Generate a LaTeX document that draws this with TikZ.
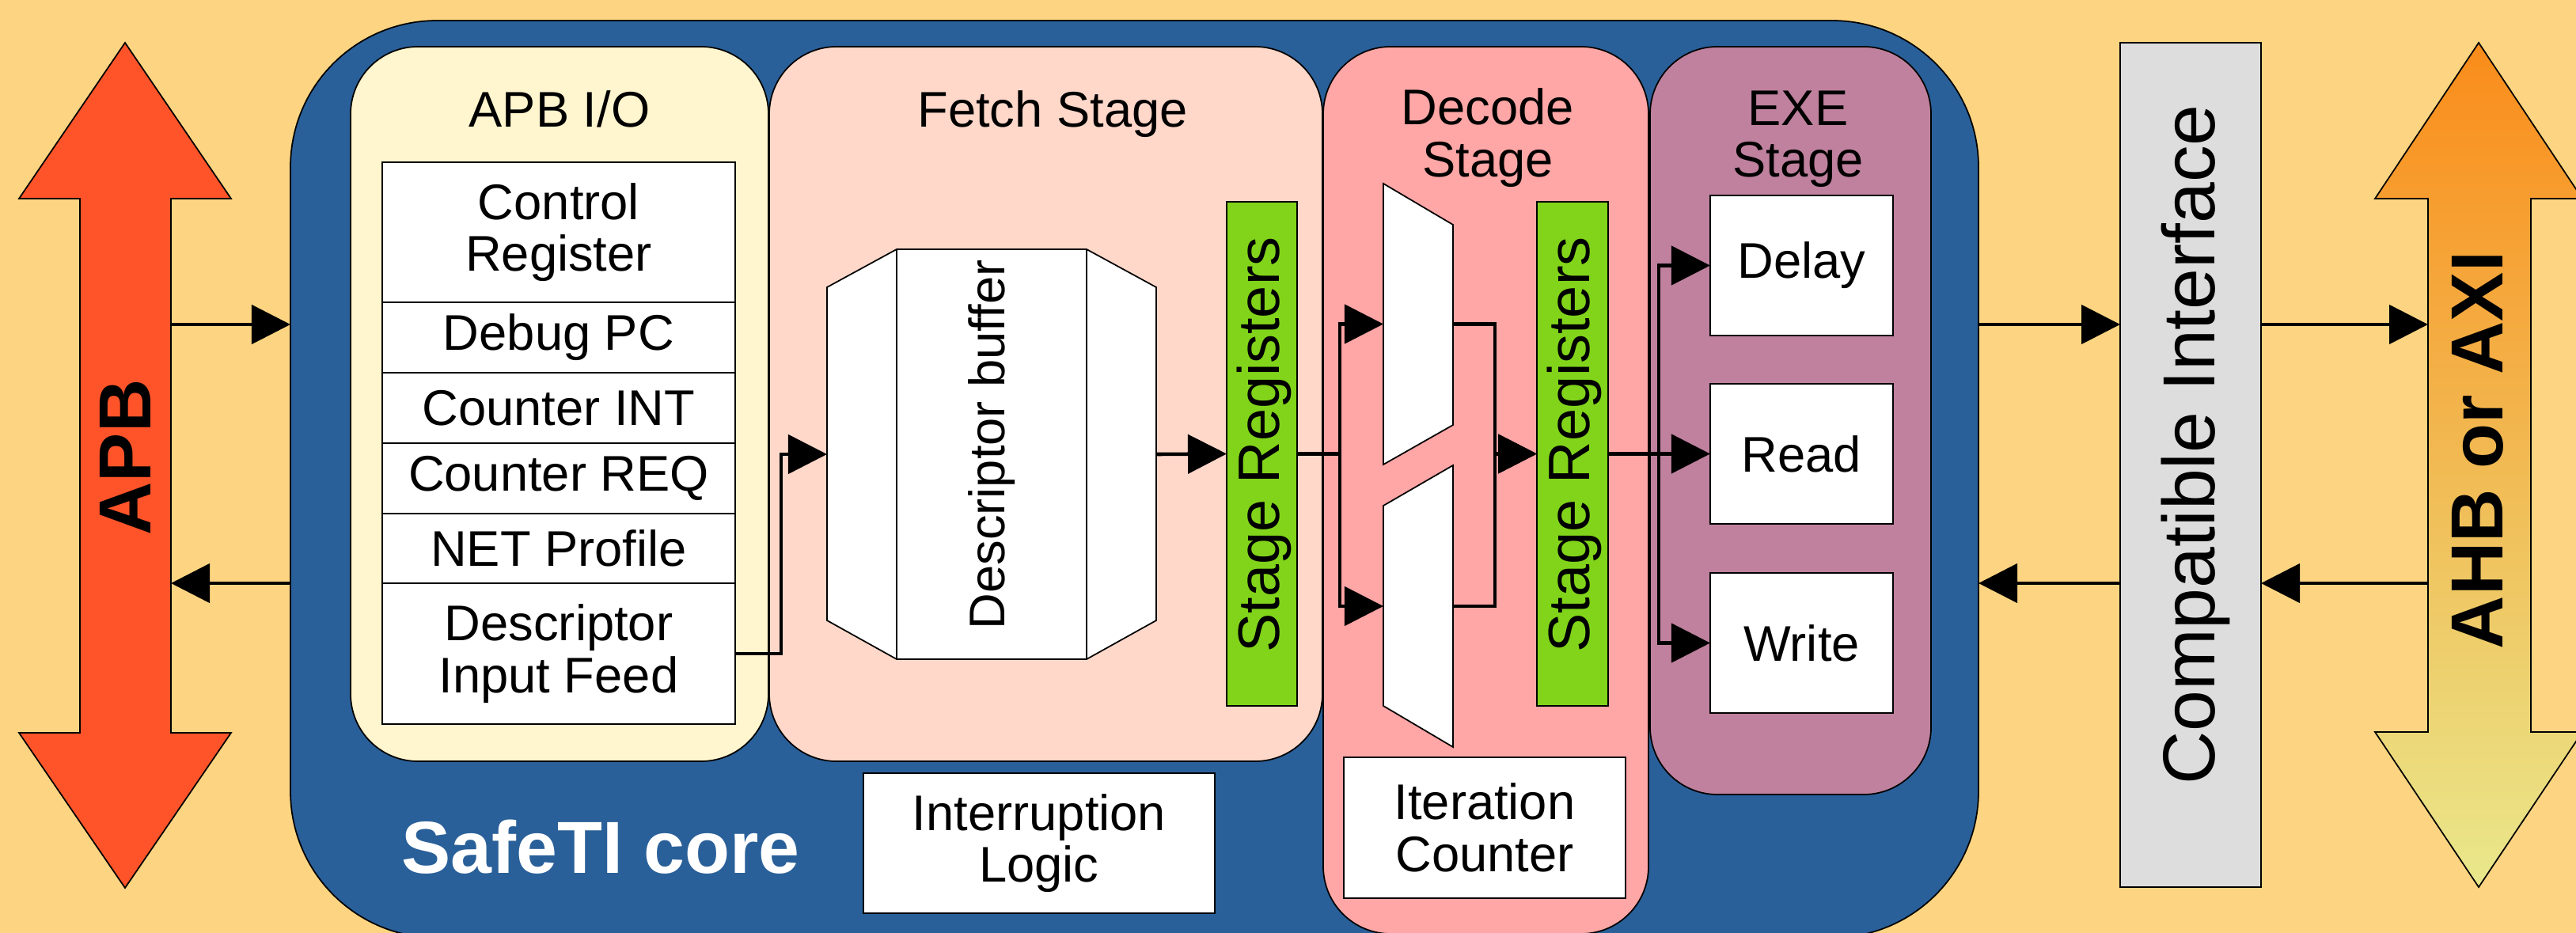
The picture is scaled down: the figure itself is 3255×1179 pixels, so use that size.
\documentclass[tikz,border=0pt]{standalone}
\usepackage{fontspec}
\setmainfont{Liberation Sans}
\usetikzlibrary{fit,arrows.meta,calc}
\definecolor{bgc}{HTML}{FDD582}
\definecolor{coreblue}{HTML}{2A6099}
\definecolor{apbioc}{HTML}{FFF5CE}
\definecolor{fetchc}{HTML}{FFD8CA}
\definecolor{decodec}{HTML}{FFA6A6}
\definecolor{exec}{HTML}{BF819E}
\definecolor{greenc}{HTML}{81D41A}
\definecolor{apbred}{HTML}{FF5429}
\definecolor{grayc}{HTML}{DDDDDD}
\definecolor{ahbtop}{HTML}{FA8C1A}
\definecolor{ahbbot}{HTML}{E9E88C}
\begin{document}
\begin{tikzpicture}[x=0.01cm,y=-0.01cm,
  every node/.style={inner sep=0pt, outer sep=0pt},
  box/.style={draw=black, line width=0.5pt, inner sep=0pt, outer sep=0pt},
  stagebox/.style={box, rounded corners=0.85cm},
  cell/.style={box, fill=white, font=\fontsize{18}{18.6}\selectfont, align=center},
  lbl/.style={font=\fontsize{18}{18.6}\selectfont, align=center},
  reglbl/.style={font=\fontsize{21}{22}\selectfont, rotate=90},
  biglbl/.style={font=\fontsize{26.5}{28}\selectfont\bfseries, rotate=90},
  conn/.style={line width=1.3pt, -{Triangle[length=0.49cm,width=0.49cm]}},
  wire/.style={line width=1.3pt}
]
\useasboundingbox (0,0) rectangle (3255,1179);
\clip (0,0) rectangle (3255,1179);
\fill[bgc] (0,0) rectangle (3255,1179);

% APB double arrow
\path[draw=black, line width=0.5pt, fill=apbred] (158,54) -- (292,251) -- (216,251) -- (216,926) -- (292,926) -- (158,1122) -- (24,926) -- (101,926) -- (101,251) -- (24,251) -- cycle;
\node[fit={(101,251)(216,926)}] (apbshaft) {};
\node[biglbl] at (158,578) {APB};

% AHB or AXI double arrow
\shadedraw[top color=ahbtop, bottom color=ahbbot, draw=black, line width=0.5pt] (3132,54) -- (3263,251) -- (3198,251) -- (3198,925) -- (3263,925) -- (3132,1121) -- (3001,925) -- (3068,925) -- (3068,251) -- (3001,251) -- cycle;
\node[fit={(3068,251)(3198,925)}] (ahbshaft) {};
\node[biglbl] at (3131,569) {AHB or AXI};

% SafeTI core
\node[box, fill=coreblue, rounded corners=1.85cm, fit={(367,26)(2500,1185)}] (core) {};
\node[font=\fontsize{26.5}{28}\selectfont\bfseries, text=white] (corelbl) at (759,1070) {SafeTI core};

% Compatible interface
\node[box, fill=grayc, fit={(2679,54)(2857,1121)}] (compat) {};
\node[font=\fontsize{26.5}{28}\selectfont, rotate=90] at (2774,562) {Compatible Interface};

% Stages
\node[stagebox, fill=apbioc, fit={(443,59)(971,962)}] (apbio) {};
\node[stagebox, fill=fetchc, fit={(972,59)(1671,962)}] (fetch) {};
\node[stagebox, fill=decodec, fit={(1672,59)(2083,1180)}] (decode) {};
\node[stagebox, fill=exec, fit={(2085,59)(2440,1004)}] (exe) {};

\node[lbl] at (707,138) {APB I/O};
\node[lbl] at (1330,144) {Fetch Stage};
\node[lbl] at (1880,174) {Decode\\Stage};
\node[lbl] at (2272,176) {EXE\\Stage};

% APB I/O registers
\node[cell, minimum width=4.46cm, minimum height=1.77cm] (ctrl) at (706,293.5) {Control\\Register};
\node[cell, minimum width=4.46cm, minimum height=0.89cm] (dbg) at (706,426.5) {Debug PC};
\node[cell, minimum width=4.46cm, minimum height=0.89cm] (cint) at (706,515.5) {Counter INT};
\node[cell, minimum width=4.46cm, minimum height=0.89cm] (creq) at (706,604.5) {Counter REQ};
\node[cell, minimum width=4.46cm, minimum height=0.88cm] (net) at (706,693) {NET Profile};
\node[cell, minimum width=4.46cm, minimum height=1.78cm] (dif) at (706,826) {Descriptor\\Input Feed};

% Descriptor buffer
\node[fit={(1045,315)(1461,833)}] (buf) {};
\draw[box, fill=white] (1045,363) -- (1133,315) -- (1373,315) -- (1461,363) -- (1461,784) -- (1373,833) -- (1133,833) -- (1045,784) -- cycle;
\draw[box] (1133,315) -- (1133,833) (1373,315) -- (1373,833);
\node[lbl, rotate=90] at (1253,562) {Descriptor buffer};

% Stage registers
\node[box, fill=greenc, fit={(1550,255)(1639,892)}] (sr1) {};
\node[reglbl] at (1597,562) {Stage Registers};
\node[box, fill=greenc, fit={(1942,255)(2032,892)}] (sr2) {};
\node[reglbl] at (1989,562) {Stage Registers};

% Decode muxes
\node[fit={(1748,232)(1836,587)}] (mux1) {};
\draw[box, fill=white] (1748,232) -- (1836,284) -- (1836,537) -- (1748,587) -- cycle;
\node[fit={(1748,588)(1836,944)}] (mux2) {};
\draw[box, fill=white] (1748,639) -- (1836,588) -- (1836,944) -- (1748,892) -- cycle;

% Bottom boxes
\node[cell, minimum width=4.44cm, minimum height=1.77cm] (irq) at (1313,1065.5) {Interruption\\Logic};
\node[cell, minimum width=3.56cm, minimum height=1.78cm] (iter) at (1876,1046) {Iteration\\Counter};

% EXE boxes
\node[cell, minimum width=2.31cm, minimum height=1.77cm] (delay) at (2276.5,335.5) {Delay};
\node[cell, minimum width=2.31cm, minimum height=1.77cm] (read) at (2276.5,573.5) {Read};
\node[cell, minimum width=2.31cm, minimum height=1.77cm] (write) at (2276.5,812.5) {Write};

% Connectors
\coordinate (ytop) at (0,410);
\coordinate (ybot) at (0,737);
\draw[conn] (apbshaft.east |- ytop) -- (core.west |- ytop);
\draw[conn] (core.west |- ybot) -- (apbshaft.east |- ybot);
\draw[conn] (core.east |- ytop) -- (compat.west |- ytop);
\draw[conn] (compat.east |- ytop) -- (ahbshaft.west |- ytop);
\draw[conn] (ahbshaft.west |- ybot) -- (compat.east |- ybot);
\draw[conn] (compat.west |- ybot) -- (core.east |- ybot);

\draw[conn] (dif.east) -- ++(58,0) |- (buf.west);
\draw[conn] (buf.east) -- (sr1.west);
\draw[wire] (sr1.east) -- ++(54,0) coordinate (bus1);
\draw[conn] (bus1) |- (mux1.west);
\draw[conn] (bus1) |- (mux2.west);
\draw[conn] (mux1.east) -- ++(53,0) |- (sr2.west);
\draw[conn] (mux2.east) -- ++(53,0) |- (sr2.west);
\draw[wire] (sr2.east) -- ++(64,0) coordinate (bus2);
\draw[conn] (bus2) |- (delay.west);
\draw[conn] (bus2) |- (read.west);
\draw[conn] (bus2) |- (write.west);
\end{tikzpicture}
\end{document}
